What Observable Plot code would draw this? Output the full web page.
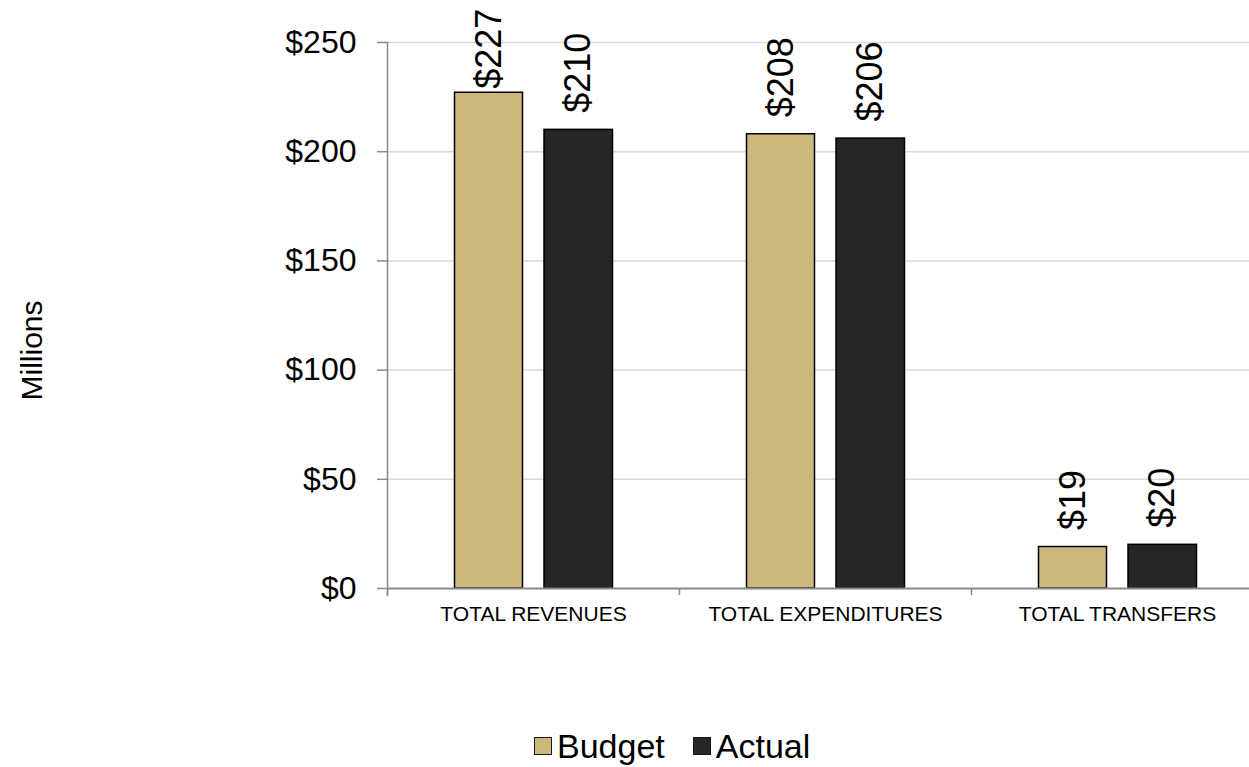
<!DOCTYPE html>
<html><head><meta charset="utf-8">
<script src="https://cdn.jsdelivr.net/npm/d3@7"></script>
<script src="https://cdn.jsdelivr.net/npm/@observablehq/plot@0.6"></script>
<style>
body{margin:0;background:#fff;overflow:hidden;font-family:"Liberation Sans",Arial,sans-serif;}
#chart{position:relative;width:1249px;height:767px;overflow:hidden;}
#legend{position:absolute;top:726px;left:534px;display:flex;align-items:center;font-size:34px;color:#000;line-height:40px;}
.sw{width:18px;height:18px;border:1.5px solid #1a1a1a;margin-right:5px;box-sizing:border-box;}
</style></head><body>
<div id="chart"></div>
<script>
const categories = ["TOTAL REVENUES", "TOTAL EXPENDITURES", "TOTAL TRANSFERS"];
const budget = [227, 208, 19];
const actual = [210, 206, 20];
const series = ["Budget", "Actual"];
const colors = ["#cdb87c", "#262626"];
const yTicks = [0, 50, 100, 150, 200, 250];
const yLabel = "Millions";

const budgetRows = categories.map((c, i) => ({cat: c, series: "Budget", value: budget[i]}));
const actualRows = categories.map((c, i) => ({cat: c, series: "Actual", value: actual[i]}));
const fmt = v => "$" + v;
const labelY = d => Math.min(d.value, 221);
const axisGray = "#898989";
const font = "'Liberation Sans', Arial, sans-serif";

const plot = Plot.plot({
  width: 1249, height: 705,
  marginLeft: 387, marginRight: 0, marginTop: 42, marginBottom: 117,
  style: {fontFamily: font, background: "white", color: "#000", overflow: "hidden"},
  x: {type: "band", domain: categories, range: [387, 1263], padding: 0, round: false},
  y: {domain: [0, 250]},
  marks: [
    Plot.ruleY(yTicks.filter(t => t > 0), {stroke: "#d9d9d9", strokeWidth: 1.5}),
    Plot.barY(budgetRows, {x: "cat", y: "value", fill: colors[0], stroke: "#000", strokeWidth: 1.5, insetLeft: 67.5, insetRight: 156.5}),
    Plot.barY(actualRows, {x: "cat", y: "value", fill: colors[1], stroke: "#000", strokeWidth: 1.5, insetLeft: 157, insetRight: 66.5}),
    Plot.ruleY([0], {stroke: axisGray, strokeWidth: 2}),
    Plot.ruleX(categories, {x: d => d, y1: 0, y2: 0, dx: -146, insetBottom: -7, stroke: axisGray, strokeWidth: 1.5}),
    Plot.frame({anchor: "left", insetBottom: -7, stroke: axisGray, strokeWidth: 1.5}),
    Plot.axisY({ticks: yTicks, tickSize: 10, tickPadding: 21, tickFormat: fmt, fontSize: 32, label: null, stroke: axisGray, strokeWidth: 1.5, fill: "#000"}),
    Plot.axisX({tickSize: 0, tickPadding: 18, fontSize: 21, label: null, fill: "#000"}),
    Plot.text(budgetRows, {x: "cat", y: labelY, text: d => fmt(d.value), rotate: -90, textAnchor: "start", dx: -44.5, dy: -17, fontSize: 36, fill: "#000"}),
    Plot.text(actualRows, {x: "cat", y: labelY, text: d => fmt(d.value), rotate: -90, textAnchor: "start", dx: 45, dy: -17, fontSize: 36, fill: "#000"}),
    Plot.text([yLabel], {frameAnchor: "left", textAnchor: "middle", rotate: -90, dx: -355, dy: 35, fontSize: 30, fill: "#000"})
  ]
});
document.getElementById("chart").appendChild(plot);

const legend = document.createElement("div");
legend.id = "legend";
series.forEach((s, i) => {
  const item = document.createElement("div");
  item.style.display = "flex";
  item.style.alignItems = "center";
  item.style.marginRight = i === 0 ? "28px" : "0";
  const sw = document.createElement("div");
  sw.className = "sw";
  sw.style.background = colors[i];
  const t = document.createElement("span");
  t.textContent = s;
  item.appendChild(sw);
  item.appendChild(t);
  legend.appendChild(item);
});
document.getElementById("chart").appendChild(legend);
</script>
</body></html>
